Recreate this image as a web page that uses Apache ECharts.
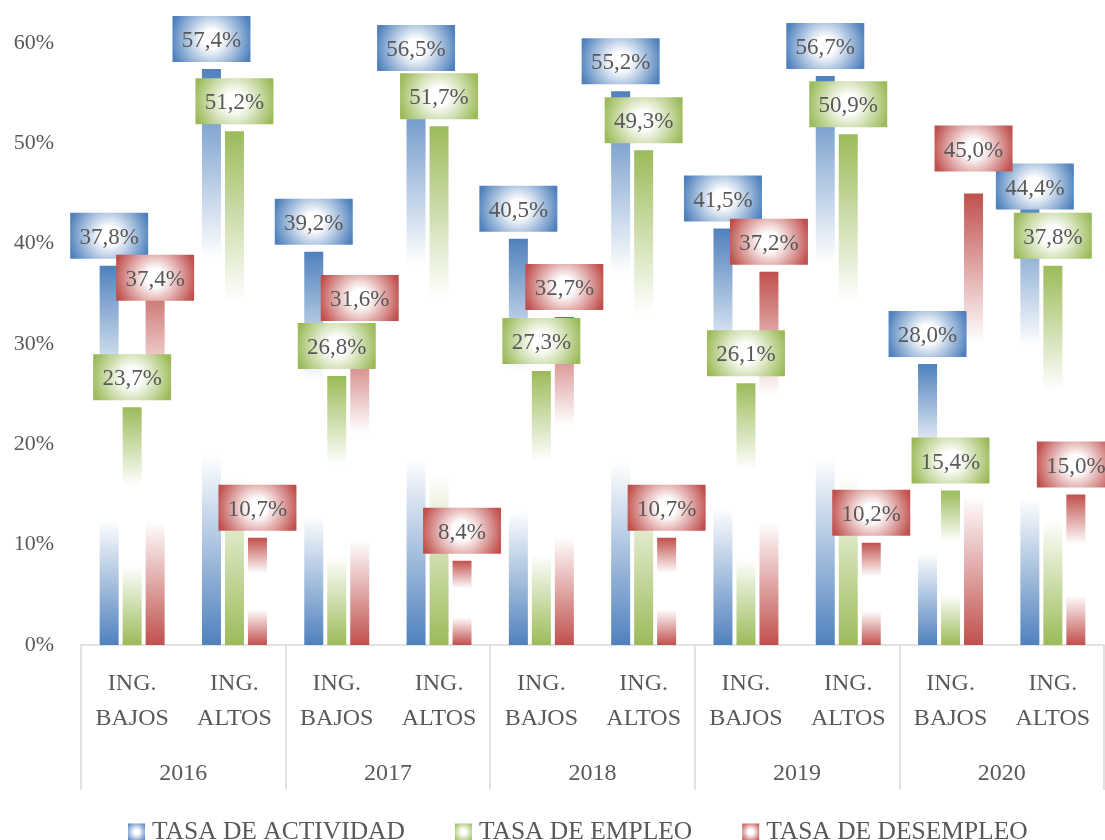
<!DOCTYPE html>
<html lang="es">
<head>
    <meta charset="UTF-8">
    <title>Tasas por nivel de ingreso</title>
    <style>
        * { margin: 0; padding: 0; }
        html, body, #chart { width: 1105px; height: 840px; overflow: hidden; background: #fff; }
    </style>
</head>
<body>
    <div id="chart"></div>
    <script src="https://cdn.jsdelivr.net/npm/echarts@6/dist/echarts.min.js"></script>
    <script>
        // datos
        const categorias = ['ING.\nBAJOS', 'ING.\nALTOS', 'ING.\nBAJOS', 'ING.\nALTOS', 'ING.\nBAJOS',
            'ING.\nALTOS', 'ING.\nBAJOS', 'ING.\nALTOS', 'ING.\nBAJOS', 'ING.\nALTOS'];
        const anios = ['2016', '2017', '2018', '2019', '2020'];
        const actividad = [37.8, 57.4, 39.2, 56.5, 40.5, 55.2, 41.5, 56.7, 28.0, 44.4];
        const empleo = [23.7, 51.2, 26.8, 51.7, 27.3, 49.3, 26.1, 50.9, 15.4, 37.8];
        const desempleo = [37.4, 10.7, 31.6, 8.4, 32.7, 10.7, 37.2, 10.2, 45.0, 15.0];
        const ticksY = [0, 60, 10]; // min, max, intervalo

        const FONT = 'Liberation Serif';
        const GRIS = '#595959';
        const LINEA = '#d9d9d9';

        // etiquetas movidas a mano en el original
        const desplazar = {
            actividad: { 9: [5, 17] },
            desempleo: { 0: [0, 38], 8: [0, -15] }
        };

        function barra(c) {
            return new echarts.graphic.LinearGradient(0, 0, 0, 1, [
                { offset: 0, color: c },
                { offset: 0.33, color: '#ffffff' },
                { offset: 0.67, color: '#ffffff' },
                { offset: 1, color: c }
            ]);
        }

        function caja(c, r) {
            return new echarts.graphic.RadialGradient(0.5, 0.5, r, [
                { offset: 0, color: '#ffffff' },
                { offset: 0.2, color: '#ffffff' },
                { offset: 0.9, color: c },
                { offset: 1, color: c }
            ]);
        }

        function serie(nombre, clave, valores, color) {
            const nudges = desplazar[clave] || {};
            return {
                name: nombre,
                type: 'bar',
                barWidth: 19,
                barGap: '21%',
                itemStyle: { color: barra(color) },
                label: {
                    show: true,
                    position: 'top',
                    distance: 7,
                    formatter: p => p.value.toFixed(1).replace('.', ',') + '%',
                    fontFamily: FONT,
                    fontSize: 23,
                    color: GRIS,
                    width: 78,
                    height: 46,
                    lineHeight: 42,
                    backgroundColor: caja(color, 1)
                },
                data: valores.map((v, i) => nudges[i] ? { value: v, label: { offset: nudges[i] } } : v)
            };
        }

        const colores = ['#4F81BD', '#9BBB59', '#C0504D'];
        const nombres = ['TASA DE ACTIVIDAD', 'TASA DE EMPLEO', 'TASA DE DESEMPLEO'];

        const chart = echarts.init(document.getElementById('chart'), null, { renderer: 'canvas' });
        chart.setOption({
            animation: false,
            grid: { left: 81, right: 1, top: 43, bottom: 195, containLabel: false },
            legend: {
                left: 123,
                top: 814,
                icon: 'rect',
                itemWidth: 17,
                itemHeight: 17,
                itemGap: 50,
                textStyle: { fontFamily: FONT, fontSize: 25.5, color: GRIS, padding: [0, 0, 0, 2] },
                data: nombres.map((n, i) => ({ name: n, itemStyle: { color: caja(colores[i], 0.75) } }))
            },
            xAxis: [{
                type: 'category',
                position: 'bottom',
                data: categorias,
                axisLine: { lineStyle: { color: LINEA, width: 1.5 } },
                axisTick: { show: false },
                axisLabel: {
                    interval: 0,
                    margin: 21,
                    fontFamily: FONT,
                    fontSize: 24,
                    lineHeight: 35,
                    color: GRIS
                }
            }, {
                type: 'category',
                position: 'bottom',
                data: anios,
                axisLine: { show: false },
                axisTick: { show: true, length: 145, lineStyle: { color: LINEA, width: 1.5 } },
                axisLabel: {
                    interval: 0,
                    margin: 115,
                    fontFamily: FONT,
                    fontSize: 24,
                    lineHeight: 28,
                    color: GRIS
                }
            }],
            yAxis: {
                type: 'value',
                min: ticksY[0],
                max: ticksY[1],
                interval: ticksY[2],
                axisLine: { show: false },
                axisTick: { show: false },
                splitLine: { show: false },
                axisLabel: {
                    formatter: '{value}%',
                    margin: 27,
                    fontFamily: FONT,
                    fontSize: 22,
                    color: GRIS
                }
            },
            series: [
                serie(nombres[0], 'actividad', actividad, colores[0]),
                serie(nombres[1], 'empleo', empleo, colores[1]),
                serie(nombres[2], 'desempleo', desempleo, colores[2])
            ]
        });
    </script>
</body>
</html>
